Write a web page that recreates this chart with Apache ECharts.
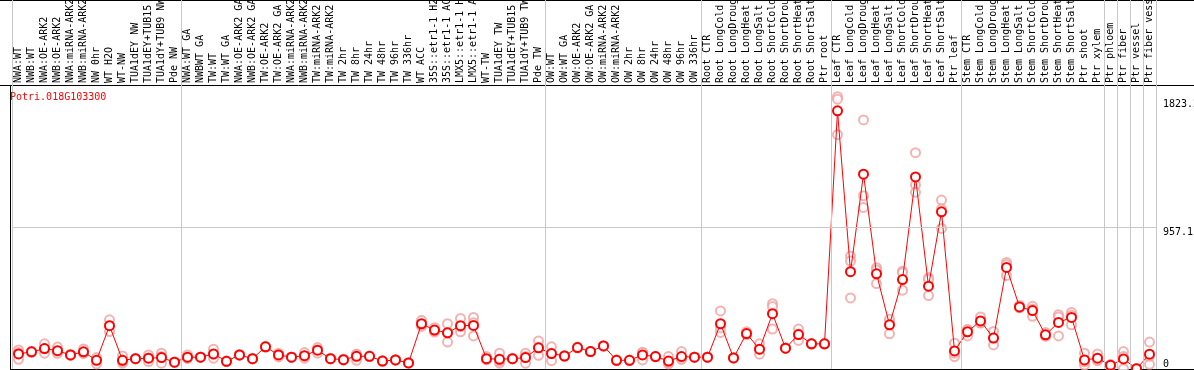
<!DOCTYPE html>
<html>
<head>
<meta charset="utf-8">
<script src="https://cdn.jsdelivr.net/npm/echarts@6/dist/echarts.min.js"></script>
<style>
  html, body { margin: 0; padding: 0; background: #fff; }
  #chart { width: 1194px; height: 370px; }
</style>
</head>
<body>
<div id="chart"></div>
<script>
// sample names, left to right
var categories = [
  'NWA:WT', 'NWB:WT', 'NWA:OE-ARK2', 'NWB:OE-ARK2', 'NWA:miRNA-ARK2', 'NWB:miRNA-ARK2', 'NW 0hr', 'WT H2O', 'WT-NW',
  'TUA1dEY NW', 'TUA1dEY+TUB15 NW', 'TUA1dY+TUB9 NW', 'Pde NW',
  'NWA:WT GA', 'NWBWT GA', 'TW:WT', 'TW:WT GA', 'NWA:OE-ARK2 GA', 'NWB:OE-ARK2 GA', 'TW:OE-ARK2', 'TW:OE-ARK2 GA',
  'NWA:miRNA-ARK2', 'NWB:miRNA-ARK2', 'TW:miRNA-ARK2', 'TW:miRNA-ARK2', 'TW 2hr', 'TW 8hr', 'TW 24hr', 'TW 48hr',
  'TW 96hr', 'TW 336hr', 'WT ACC', '35S::etr1-1 H2O', '35S::etr1-1 ACC', 'LMX5::etr1-1 H2O', 'LMX5::etr1-1 ACC',
  'WT-TW', 'TUA1dEY TW', 'TUA1dEY+TUB15 TW', 'TUA1dY+TUB9 TW', 'Pde TW',
  'OW:WT', 'OW:WT GA', 'OW:OE-ARK2', 'OW:OE-ARK2 GA', 'OW:miRNA-ARK2', 'OW:miRNA-ARK2', 'OW 2hr', 'OW 8hr',
  'OW 24hr', 'OW 48hr', 'OW 96hr', 'OW 336hr',
  'Root CTR', 'Root LongCold', 'Root LongDrought', 'Root LongHeat', 'Root LongSalt', 'Root ShortCold',
  'Root ShortDrought', 'Root ShortHeat', 'Root ShortSalt', 'Ptr root',
  'Leaf CTR', 'Leaf LongCold', 'Leaf LongDrought', 'Leaf LongHeat', 'Leaf LongSalt', 'Leaf ShortCold',
  'Leaf ShortDrought', 'Leaf ShortHeat', 'Leaf ShortSalt', 'Ptr leaf',
  'Stem CTR', 'Stem LongCold', 'Stem LongDrought', 'Stem LongHeat', 'Stem LongSalt', 'Stem ShortCold',
  'Stem ShortDrought', 'Stem ShortHeat', 'Stem ShortSalt', 'Ptr shoot',
  'Ptr xylem', 'Ptr phloem', 'Ptr fiber', 'Ptr vessel', 'Ptr fiber vessel'
];

// mean expression (red line)
var meanValues = [
  102, 116, 138, 124, 95, 116, 59, 293, 59, 70,
  73, 77, 46, 80, 80, 102, 52, 95, 70, 150,
  95, 80, 90, 127, 70, 63, 86, 86, 54, 61,
  41, 306, 263, 245, 293, 295, 70, 66, 70, 77,
  143, 104, 88, 145, 118, 156, 59, 59, 95, 84,
  54, 84, 80, 80, 306, 75, 240, 134, 374, 141,
  233, 170, 170, 1746, 658, 1318, 644, 299, 605, 1299,
  560, 1063, 122, 252, 325, 209, 687, 420, 395, 231,
  315, 349, 61, 73, 25, 68, 2, 100
];

// replicates (pink circles)
var rep1 = [
  129, 112, 170, 148, 92, 136, 66, 333, 88, 68,
  95, 107, 44, 95, 80, 134, 52, 98, 70, 152,
  107, 80, 111, 145, 70, 68, 59, 86, 54, 61,
  41, 329, 279, 306, 342, 349, 84, 107, 70, 107,
  190, 150, 88, 145, 118, 156, 59, 59, 61, 84,
  84, 118, 80, 80, 393, 75, 252, 170, 442, 141,
  270, 170, 170, 1842, 764, 1685, 685, 322, 662, 1463,
  617, 1143, 175, 224, 352, 254, 721, 431, 424, 247,
  367, 383, 107, 102, 30, 118, 2, 182
];
var rep2 = [
  66, 120, 107, 118, 98, 107, 34, 293, 39, 72,
  50, 39, 48, 73, 78, 73, 50, 92, 68, 148,
  82, 80, 73, 107, 68, 61, 100, 84, 52, 59,
  39, 288, 250, 182, 252, 224, 63, 39, 68, 39,
  93, 56, 86, 142, 116, 154, 57, 59, 112, 82,
  34, 68, 80, 78, 247, 73, 235, 100, 422, 139,
  193, 168, 168, 1825, 730, 1172, 578, 238, 651, 1245,
  605, 1082, 84, 265, 311, 163, 707, 414, 356, 223,
  352, 363, 27, 59, 20, 2, 0, 32
];
var rep3 = [
  111, 116, 137, 106, 95, 105, 77, 253, 50, 70,
  74, 85, 46, 72, 82, 99, 54, 95, 72, 150,
  96, 80, 86, 129, 72, 60, 99, 88, 56, 63,
  43, 301, 260, 247, 285, 312, 63, 52, 72, 85,
  146, 106, 90, 148, 120, 158, 61, 59, 112, 86,
  44, 66, 80, 82, 278, 77, 233, 132, 270, 143,
  236, 172, 172, 1585, 481, 1093, 669, 337, 533, 1195,
  497, 951, 107, 267, 312, 210, 633, 415, 405, 223,
  224, 299, 49, 58, 25, 84, 4, 86
];

// group separators (category boundaries)
var groupBounds = [0, 13, 41, 53, 63, 73, 84, 85, 86, 87, 88];
var yTicks = [957.1, 1823.2];
var yZero = [0];
var yMax = 1914.2;
var midLine = 957.1;

var mono = 'DejaVu Sans Mono';

var chartDom = document.getElementById('chart');
var myChart = echarts.init(chartDom);

var repPoints = [];
categories.forEach(function (c, i) {
  repPoints.push([i, rep1[i]], [i, rep2[i]], [i, rep3[i]]);
});

function plainNum(v) {
  return String(v);
}

var option = {
  animation: false,
  backgroundColor: '#fff',
  title: {
    text: 'Potri.018G103300',
    left: 10,
    top: 92,
    padding: 0,
    textStyle: { color: '#ff0000', fontFamily: mono, fontSize: 10, fontWeight: 'normal' }
  },
  grid: [
    { left: 12, right: 38, top: 86, bottom: 1, outerBoundsMode: 'none', containLabel: false },  // 数据区
    { left: 12, right: 38, top: 0, bottom: 1, outerBoundsMode: 'none', containLabel: false }    // 分隔线贯穿标签区
  ],
  xAxis: [
    {
      type: 'category',
      gridIndex: 0,
      position: 'top',
      data: categories,
      boundaryGap: true,
      axisLine: { show: false },
      axisTick: { show: false },
      splitLine: { show: false },
      axisLabel: {
        interval: 0,
        rotate: 90,
        margin: 3,
        hideOverlap: false,
        color: '#000',
        fontFamily: mono,
        fontSize: 10
      }
    },
    { type: 'value', gridIndex: 1, min: 0, max: categories.length, show: false }
  ],
  yAxis: [
    {
      type: 'value',
      gridIndex: 0,
      position: 'right',
      min: 0,
      max: yMax,
      axisLine: { show: false },
      axisTick: { show: false },
      splitLine: { show: false },
      axisLabel: {
        customValues: yTicks,
        formatter: plainNum,
        margin: 7,
        verticalAlign: 'top',
        color: '#000',
        fontFamily: mono,
        fontSize: 10
      }
    },
    {
      type: 'value',
      gridIndex: 0,
      position: 'right',
      min: 0,
      max: yMax,
      axisLine: { show: false },
      axisTick: { show: false },
      splitLine: { show: false },
      axisLabel: {
        customValues: yZero,
        formatter: plainNum,
        margin: 7,
        verticalAlign: 'bottom',
        color: '#000',
        fontFamily: mono,
        fontSize: 10
      }
    },
    { type: 'value', gridIndex: 1, min: 0, max: 1, show: false }
  ],
  graphic: {
    elements: [
      { type: 'line', silent: true, shape: { x1: 0, y1: 85.5, x2: 1194, y2: 85.5 }, style: { stroke: '#000', lineWidth: 1 } },
      { type: 'line', silent: true, shape: { x1: 10.5, y1: 85, x2: 10.5, y2: 370 }, style: { stroke: '#000', lineWidth: 1 } },
      { type: 'line', silent: true, shape: { x1: 10, y1: 369.5, x2: 1194, y2: 369.5 }, style: { stroke: '#000', lineWidth: 1 } },
      { type: 'line', silent: true, shape: { x1: 0, y1: 0.5, x2: 1194, y2: 0.5 }, style: { stroke: '#000', lineWidth: 1 } }
    ]
  },
  series: [
    {
      name: 'bounds',
      type: 'line',
      xAxisIndex: 1,
      yAxisIndex: 2,
      data: [],
      silent: true,
      markLine: {
        silent: true,
        symbol: 'none',
        label: { show: false },
        lineStyle: { color: '#c8c8c8', width: 1, type: 'solid' },
        data: groupBounds.map(function (b) { return { xAxis: b }; })
      }
    },
    {
      name: 'replicates',
      type: 'scatter',
      xAxisIndex: 0,
      yAxisIndex: 0,
      data: repPoints,
      symbol: 'emptyCircle',
      symbolSize: 9,
      itemStyle: { color: '#f0a0a0', borderWidth: 1 },
      silent: true,
      markLine: {
        silent: true,
        symbol: 'none',
        label: { show: false },
        lineStyle: { color: '#c8c8c8', width: 1, type: 'solid' },
        data: [{ yAxis: midLine }]
      }
    },
    {
      name: 'mean',
      type: 'line',
      xAxisIndex: 0,
      yAxisIndex: 0,
      data: meanValues,
      symbol: 'emptyCircle',
      symbolSize: 9,
      color: '#ff0000',
      lineStyle: { width: 1, color: '#ff0000' },
      itemStyle: { color: '#ff0000', borderWidth: 1.2 },
      silent: true
    }
  ]
};

option && myChart.setOption(option);
</script>
</body>
</html>
